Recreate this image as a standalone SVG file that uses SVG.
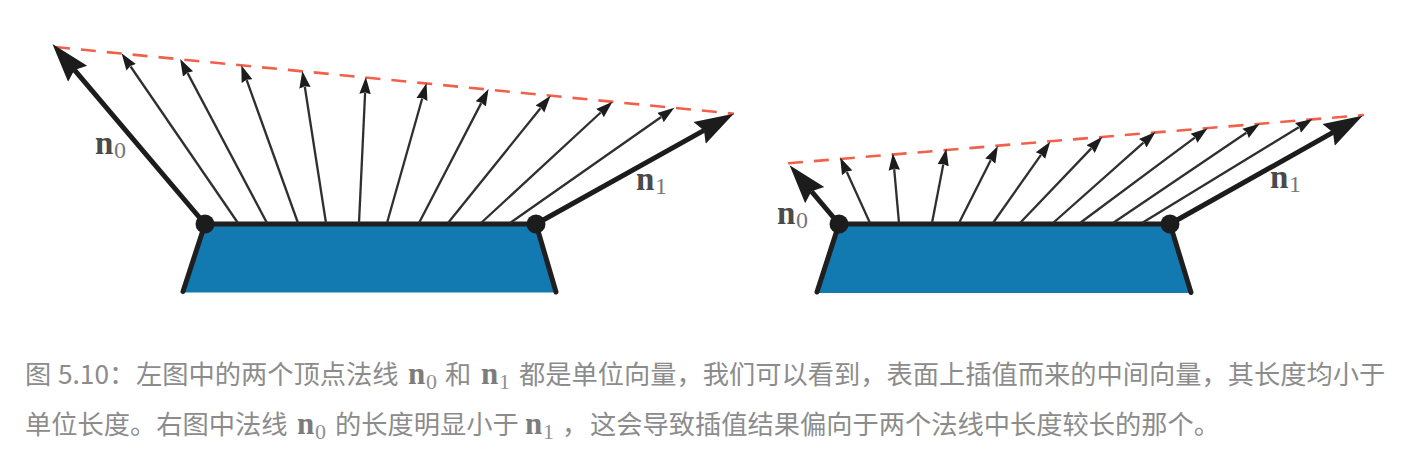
<svg xmlns="http://www.w3.org/2000/svg" width="1402" height="454" viewBox="0 0 1402 454">
<style>
.body{fill:#127ab0;stroke:none}
.edge{fill:none;stroke:#1f1f1f;stroke-width:5;stroke-linecap:round;stroke-linejoin:miter}
.thin{fill:none;stroke:#2f2f2f;stroke-width:2.3;marker-end:url(#ah)}
.thick{fill:none;stroke:#1c1c1c;stroke-width:5;marker-end:url(#ahb)}
.dash{fill:none;stroke:#f0604a;stroke-width:2.6;stroke-dasharray:15 11}
.dot{fill:#1c1c1c}
.m{font-family:"Liberation Serif",serif;font-weight:700;font-size:33px;fill:#4a4a4a}
.s{font-family:"Liberation Serif",serif;font-size:24px;fill:#777}
.c{font-family:"Noto Sans CJK SC","Noto Sans",sans-serif;font-size:26.25px;fill:#8c8c8c}
.mi{font-family:"Liberation Serif",serif;font-weight:700;font-size:31px;fill:#7c7c7c}
.si{font-family:"Liberation Serif",serif;font-size:22px;fill:#909090}
</style>
<defs>
<marker id="ah" markerUnits="userSpaceOnUse" markerWidth="20" markerHeight="14" refX="1" refY="6.5" orient="auto"><path d="M0 .8L17 6.5L0 12.2L1.5 6.5Z" fill="#1c1c1c"/></marker>
<marker id="ahb" markerUnits="userSpaceOnUse" markerWidth="44" markerHeight="30" refX="5" refY="13.5" orient="auto"><path d="M0 1L39 13.5L0 26L5 13.5Z" fill="#1c1c1c"/></marker>
</defs>
<rect width="1402" height="454" fill="#fff"/>
<g id="left-surface">
<path class="body" d="M183 292.5L205 224H536L556 292.5Z"/>
<path class="edge" d="M183 291.5L205 224H536L556 292"/>
</g>
<g id="right-surface">
<path class="body" d="M817 293L839 224H1170L1191 293Z"/>
<path class="edge" d="M817 292L839 224H1170L1191 292.5"/>
</g>
<g id="connectors">
<path class="dash" d="M55 47L734 113.7"/>
<path class="dash" d="M788 163.3L1364 115"/>
<path class="thin" d="M238 223L130.6 66.5"/>
<path class="thin" d="M267 223L187.6 73.1"/>
<path class="thin" d="M298 223L246.7 80.2"/>
<path class="thin" d="M326 223L304.8 86.8"/>
<path class="thin" d="M359 223L365.1 93"/>
<path class="thin" d="M387 223L422.2 98.5"/>
<path class="thin" d="M419 223L481.2 103.1"/>
<path class="thin" d="M448 223L540.5 108.2"/>
<path class="thin" d="M481 223L600.7 112.5"/>
<path class="thin" d="M510 223L661.2 117"/>
<path class="thick" d="M205 224L74.4 69.9"/>
<path class="thick" d="M536 224L704 130.4"/>
<path class="thin" d="M870 223L846.8 172"/>
<path class="thin" d="M899 223L894.2 169.2"/>
<path class="thin" d="M932 223L943.3 164.4"/>
<path class="thin" d="M959 223L990.7 160.2"/>
<path class="thin" d="M993 223L1041 154.8"/>
<path class="thin" d="M1020 223L1091.3 148.4"/>
<path class="thin" d="M1053 223L1143.5 142.6"/>
<path class="thin" d="M1080 223L1194.8 137.7"/>
<path class="thin" d="M1113 223L1246.4 132.8"/>
<path class="thin" d="M1142 223L1298.8 127.3"/>
<path class="thick" d="M839 224L811.5 191.3"/>
<path class="thick" d="M1170 224L1333 132.4"/>
</g>
<g id="vertices">
<circle class="dot" cx="205" cy="224" r="9.5"/>
<circle class="dot" cx="536" cy="224" r="9.5"/>
<circle class="dot" cx="839" cy="224" r="9.5"/>
<circle class="dot" cx="1170" cy="224" r="9.5"/>
</g>
<g id="labels">
<text class="m" x="95" y="154">n</text><text class="s" x="114" y="158">0</text>
<text class="m" x="636" y="190">n</text><text class="s" x="655" y="194">1</text>
<text class="m" x="777" y="224">n</text><text class="s" x="796" y="228">0</text>
<text class="m" x="1270" y="188">n</text><text class="s" x="1289" y="192">1</text>
</g>
<g id="caption">
<text class="c" x="25" y="384">图</text>
<text class="c" x="58" y="384">5.10：</text>
<text class="c" x="136" y="384">左图中的两个顶点法线</text>
<text class="mi" x="408" y="384">n</text><text class="si" x="426" y="389">0</text>
<text class="c" x="445" y="384">和</text>
<text class="mi" x="481" y="384">n</text><text class="si" x="499" y="389">1</text>
<text class="c" x="519" y="384">都是单位向量，我们可以看到，表面上插值而来的中间向量，其长度均小于</text>
<text class="c" x="25" y="434">单位长度。右图中法线</text>
<text class="mi" x="297" y="434">n</text><text class="si" x="315" y="439">0</text>
<text class="c" x="335" y="434">的长度明显小于</text>
<text class="mi" x="525" y="434">n</text><text class="si" x="543" y="439">1</text>
<text class="c" x="562" y="434">，</text>
<text class="c" x="590" y="434">这会导致插值结果偏向于两个法线中长度较长的那个。</text>
</g>
</svg>
